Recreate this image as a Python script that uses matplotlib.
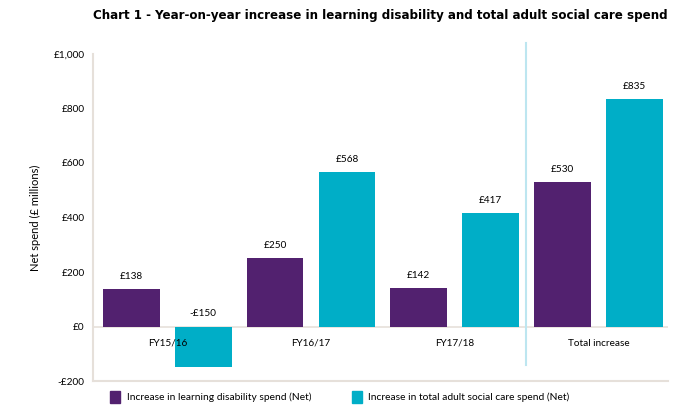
import matplotlib
matplotlib.use("Agg")
import matplotlib.pyplot as plt
import numpy as np
from matplotlib.patches import Patch

plt.rcParams["font.family"] = ["Lato", "DejaVu Sans"]

categories = ["FY15/16", "FY16/17", "FY17/18", "Total increase"]
learning_disability = [138, 250, 142, 530]
adult_social_care = [-150, 568, 417, 835]
series_names = [
    "Increase in learning disability spend (Net)",
    "Increase in total adult social care spend (Net)",
]
y_ticks = [-200, 0, 200, 400, 600, 800, 1000]
y_tick_labels = ["-£200", "£0", "£200", "£400", "£600", "£800", "£1,000"]

PURPLE = "#52216F"
TEAL = "#00AEC7"
AXIS = "#E6E0DA"

fig = plt.figure(figsize=(7, 4.19), dpi=100)
ax = fig.add_axes([93 / 700, 1 - 381 / 419, (668 - 93) / 700, (381 - 54) / 419])

pos_ld = np.arange(len(categories)) * 2
pos_asc = pos_ld + 1
width = 0.79
ax.bar(pos_ld, learning_disability, width, color=PURPLE)
ax.bar(pos_asc, adult_social_care, width, color=TEAL)

# value labels sit above the bar, or above the zero line for negatives
for x, v in zip(pos_ld, learning_disability):
    ax.text(x, max(v, 0) + 30, f"£{v}", ha="center", va="bottom", fontsize=7.2)
for x, v in zip(pos_asc, adult_social_care):
    label = f"£{v}" if v >= 0 else f"-£{-v}"
    ax.text(x, max(v, 0) + 30, label, ha="center", va="bottom", fontsize=7.2)

for i, cat in enumerate(categories):
    ax.text(pos_ld[i] + 0.5, -62, cat, ha="center", va="center", fontsize=7.2)

ax.axhline(0, color=AXIS, lw=1.2, zorder=0.5)
ax.axvline(5.5, ymin=(-140 + 200) / 1200, ymax=(1040 + 200) / 1200, color="#BDE6F0", lw=1.5, clip_on=False)

ax.set_xlim(-0.535, 7.47)
ax.set_ylim(-200, 1000)
ax.set_xticks([])
ax.set_yticks(y_ticks, y_tick_labels)
ax.tick_params(axis="y", length=0, labelsize=7.2, pad=6)
for side in ("top", "right"):
    ax.spines[side].set_visible(False)
for side in ("left", "bottom"):
    ax.spines[side].set_color(AXIS)
    ax.spines[side].set_linewidth(1.5)
ax.set_ylabel("Net spend (£ millions)", fontsize=8, labelpad=9)

fig.text(93 / 700, 1 - 16 / 419, "Chart 1 - Year-on-year increase in learning disability and total adult social care spend",
         fontsize=8.6, fontweight="bold", va="center", ha="left", family="DejaVu Sans")

handles = [Patch(color=PURPLE), Patch(color=TEAL)]
fig.legend(handles, series_names, loc="center left", bbox_to_anchor=(105 / 700, 1 - 397 / 419),
           ncol=2, frameon=False, fontsize=7.4, handlelength=1.0, handleheight=1.4,
           columnspacing=3.95, handletextpad=0.6, borderpad=0)

fig.savefig("out.png", dpi=100)
